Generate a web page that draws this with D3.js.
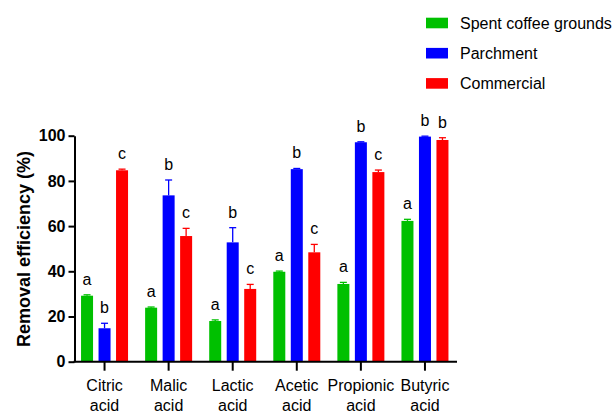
<!DOCTYPE html>
<html>
<head>
<meta charset="utf-8">
<script src="https://cdn.jsdelivr.net/npm/d3@7"></script>
<style>
  html, body { margin: 0; padding: 0; background: #fff; }
  svg { display: block; font-family: "Liberation Sans", Arial, sans-serif; }
</style>
</head>
<body>
<svg id="chart" width="616" height="414"></svg>
<script>
// Organic acids tested, two-line axis labels
const categories = ["Citric acid", "Malic acid", "Lactic acid", "Acetic acid", "Propionic acid", "Butyric acid"];
const seriesNames = ["Spent coffee grounds", "Parchment", "Commercial"];
const seriesColors = ["#00c000", "#0000ff", "#ff0000"];

// Mean removal efficiency (%) per adsorbent
const spentCoffee = [29.2, 23.9, 18.0, 39.8, 34.4, 62.3];
const parchment   = [14.8, 73.6, 52.8, 85.2, 97.1, 99.6];
const commercial  = [84.7, 55.6, 32.2, 48.4, 83.9, 98.1];

// Standard deviations (upper error bars)
const spentCoffeeSd = [0.4, 0.3, 0.5, 0.3, 0.7, 0.7];
const parchmentSd   = [2.2, 6.8, 6.5, 0.3, 0.2, 0.2];
const commercialSd  = [0.5, 3.4, 2.0, 3.5, 0.9, 1.0];

// Significance letters
const spentCoffeeLetters = ["a", "a", "a", "a", "a", "a"];
const parchmentLetters   = ["b", "b", "b", "b", "b", "b"];
const commercialLetters  = ["c", "c", "c", "c", "c", "b"];

const yTicks = [0, 20, 40, 60, 80, 100];

const series = [
  { name: seriesNames[0], color: seriesColors[0], values: spentCoffee, sd: spentCoffeeSd, letters: spentCoffeeLetters },
  { name: seriesNames[1], color: seriesColors[1], values: parchment,   sd: parchmentSd,   letters: parchmentLetters },
  { name: seriesNames[2], color: seriesColors[2], values: commercial,  sd: commercialSd,  letters: commercialLetters }
];

const svg = d3.select("#chart");

const axisX = 74.5;
const x0 = d3.scaleBand().domain(categories).range([72.5, 457]).padding(0);
const x1 = d3.scaleBand().domain(seriesNames).range([-23.5, 23.5]).paddingInner(0.314).paddingOuter(0);
const y = d3.scaleLinear().domain([0, 100]).range([361.7, 135.7]);

// Bars, error bars and letters
series.forEach(s => {
  const g = svg.append("g");
  const rows = categories.map((c, i) => ({ c, v: s.values[i], sd: s.sd[i], letter: s.letters[i] }));
  const cx = d => x0(d.c) + x0.bandwidth() / 2 + x1(s.name);

  g.selectAll("rect").data(rows).join("rect")
    .attr("x", cx)
    .attr("y", d => y(d.v))
    .attr("width", x1.bandwidth())
    .attr("height", d => y(0) - y(d.v))
    .attr("fill", s.color);

  const mid = d => cx(d) + x1.bandwidth() / 2;
  g.selectAll("line.err").data(rows).join("line")
    .attr("class", "err")
    .attr("x1", mid).attr("x2", mid)
    .attr("y1", d => y(d.v)).attr("y2", d => y(d.v + d.sd))
    .attr("stroke", s.color).attr("stroke-width", 1.3);
  g.selectAll("line.cap").data(rows).join("line")
    .attr("class", "cap")
    .attr("x1", d => mid(d) - 3.5).attr("x2", d => mid(d) + 3.5)
    .attr("y1", d => y(d.v + d.sd)).attr("y2", d => y(d.v + d.sd))
    .attr("stroke", s.color).attr("stroke-width", 1.3);

  g.selectAll("text").data(rows).join("text")
    .attr("x", mid)
    .attr("y", d => y(d.v + d.sd) - 10)
    .attr("text-anchor", "middle")
    .attr("font-size", 16)
    .attr("fill", "#000")
    .text(d => d.letter);
});

// Y axis
const yAxis = svg.append("g")
  .attr("transform", `translate(${axisX},0)`)
  .call(d3.axisLeft(y).tickValues(yTicks).tickSize(6).tickSizeOuter(0).tickPadding(3));
yAxis.select(".domain").attr("stroke", "#000").attr("stroke-width", 2);
yAxis.selectAll(".tick line").attr("stroke", "#000").attr("stroke-width", 2);
yAxis.selectAll(".tick text")
  .attr("font-size", 16).attr("font-weight", "bold")
  .attr("font-family", "Liberation Sans, Arial, sans-serif").attr("fill", "#000");

// X axis
const xAxis = svg.append("g")
  .attr("transform", `translate(0,${y(0)})`)
  .call(d3.axisBottom(x0).tickSize(9).tickSizeOuter(0).tickFormat(""));
xAxis.select(".domain").attr("stroke", "#000").attr("stroke-width", 2)
  .attr("d", `M${axisX - 1},0H457`);
xAxis.selectAll(".tick line").attr("stroke", "#000").attr("stroke-width", 2);
xAxis.selectAll(".tick").each(function(d) {
  const words = d.split(" ");
  const t = d3.select(this).append("text")
    .attr("text-anchor", "middle")
    .attr("font-size", 16)
    .attr("font-family", "Liberation Sans, Arial, sans-serif")
    .attr("fill", "#000");
  t.append("tspan").attr("x", 0).attr("y", 29.5).text(words[0]);
  t.append("tspan").attr("x", 0).attr("y", 49.3).text(words[1]);
});

// Y axis title
svg.append("text")
  .attr("transform", `translate(30,249) rotate(-90)`)
  .attr("text-anchor", "middle")
  .attr("font-size", 18)
  .attr("font-weight", "bold")
  .attr("fill", "#000")
  .text("Removal efficiency (%)");

// Legend
const legend = svg.append("g");
series.forEach((s, i) => {
  const cy = 23 + i * 30.2;
  legend.append("rect")
    .attr("x", 426).attr("y", cy - 5.3)
    .attr("width", 22).attr("height", 10.6)
    .attr("fill", s.color);
  legend.append("text")
    .attr("x", 460).attr("y", cy + 6)
    .attr("font-size", 16)
    .attr("fill", "#000")
    .text(s.name);
});
</script>
</body>
</html>
